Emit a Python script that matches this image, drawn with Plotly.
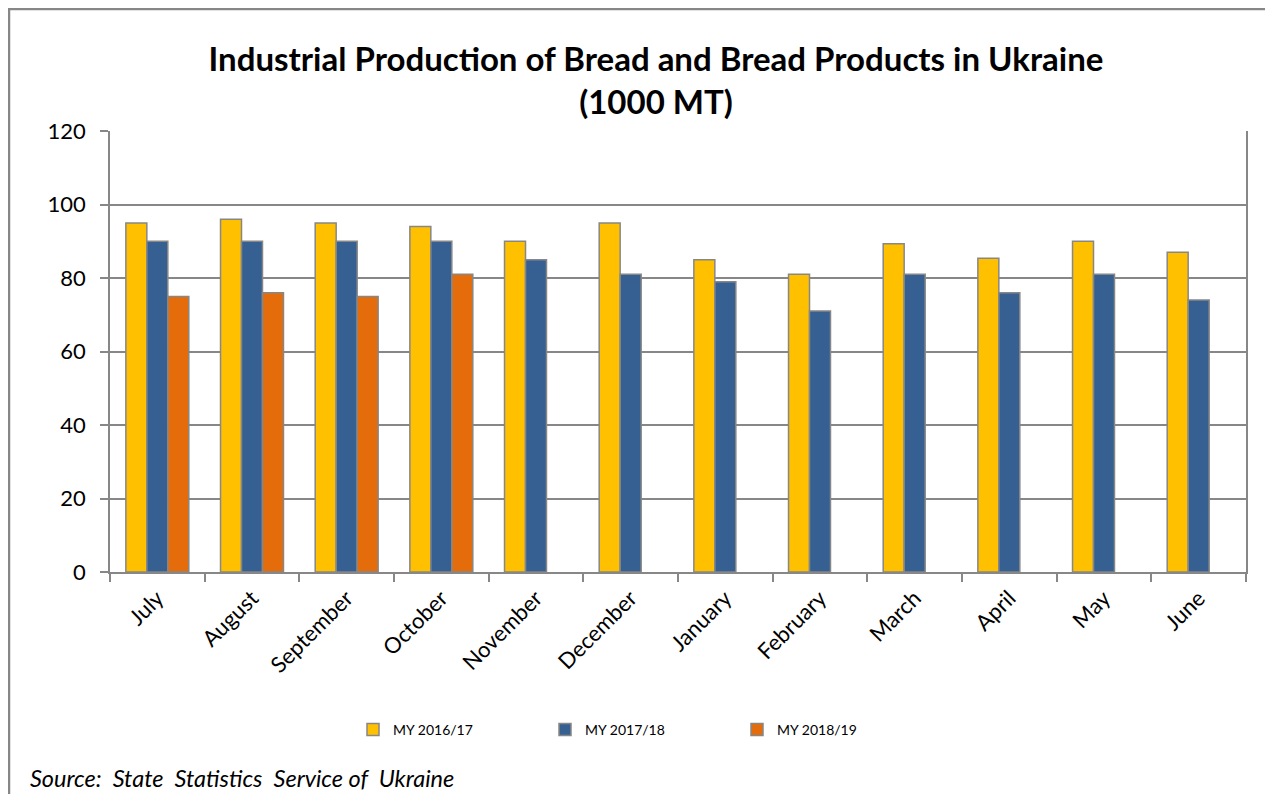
import plotly.graph_objects as go

months = ["July", "August", "September", "October", "November", "December",
          "January", "February", "March", "April", "May", "June"]
my_2016_17 = [95, 96, 95, 94, 90, 95, 85, 81, 89.3, 85.4, 90, 87]
my_2017_18 = [90, 90, 90, 90, 85, 81, 79, 71, 81, 76, 81, 74]
my_2018_19 = [75, 76, 75, 81, None, None, None, None, None, None, None, None]
y_ticks = [0, 20, 40, 60, 80, 100, 120]

FONT = "Lato, 'Open Sans', sans-serif"
GRAY = "#878787"

fig = go.Figure()
for name, vals, col in [("MY 2016/17", my_2016_17, "#FFC000"),
                        ("MY 2017/18", my_2017_18, "#376092"),
                        ("MY 2018/19", my_2018_19, "#E46C0A")]:
    fig.add_trace(go.Bar(x=months, y=vals, name=name,
                         marker=dict(color=col, line=dict(color=GRAY, width=1.5))))

OFF = 8  # page body margin
W, H = 1257, 786
L, R, T, B = 102, 19, 123, 222
pw, ph = W - L - R, H - T - B

def px_x(p):  # page pixel -> paper
    return (p - OFF - L) / pw

def px_y(p):
    return (H - B - (p - OFF)) / ph

fig.update_layout(
    width=W, height=H,
    margin=dict(l=L, r=R, t=T, b=B),
    paper_bgcolor="white", plot_bgcolor="white",
    font=dict(family=FONT, color="black"),
    barmode="group", bargap=0.335, bargroupgap=0,
    title=dict(text="<b>Industrial Production of Bread and Bread Products in Ukraine<br>(1000 MT)</b>",
               x=px_x(656), xref="paper", xanchor="center",
               y=1 - (71 - OFF) / H, yanchor="top",
               font=dict(size=33, family=FONT, color="black")),
    legend=dict(orientation="h", x=px_x(353), xanchor="left", y=px_y(730), yanchor="middle",
                font=dict(size=14, family=FONT), entrywidth=147, entrywidthmode="pixels",
                itemwidth=30, traceorder="normal"),
    xaxis=dict(type="category", tickson="boundaries", ticks="outside", ticklen=8,
               tickcolor=GRAY, tickwidth=1.5, showline=True, linecolor=GRAY, linewidth=1.5,
               tickangle=-45, tickfont=dict(size=22, family=FONT), showgrid=False,
               ticklabelstandoff=3),
    yaxis=dict(range=[0, 120], tickvals=y_ticks, ticks="outside", ticklen=8,
               tickcolor=GRAY, tickwidth=1.5, showline=True, mirror=True,
               linecolor=GRAY, linewidth=1.5, showgrid=True, gridcolor=GRAY, gridwidth=1.5,
               tickfont=dict(size=22, family=FONT), zeroline=False, ticklabelstandoff=10),
    annotations=[dict(text="<i>Source:  State  Statistics  Service of  Ukraine</i>",
                      xref="paper", yref="paper", x=px_x(28), y=px_y(778),
                      xanchor="left", yanchor="middle", showarrow=False,
                      font=dict(size=23.5, family=FONT, color="black"))],
    shapes=[dict(type="rect", xref="paper", yref="paper",
                 x0=px_x(9), x1=px_x(1300), y0=px_y(830), y1=px_y(9),
                 line=dict(color=GRAY, width=2.5), fillcolor="rgba(0,0,0,0)", layer="below")],
)

fig.write_html("out.html")
